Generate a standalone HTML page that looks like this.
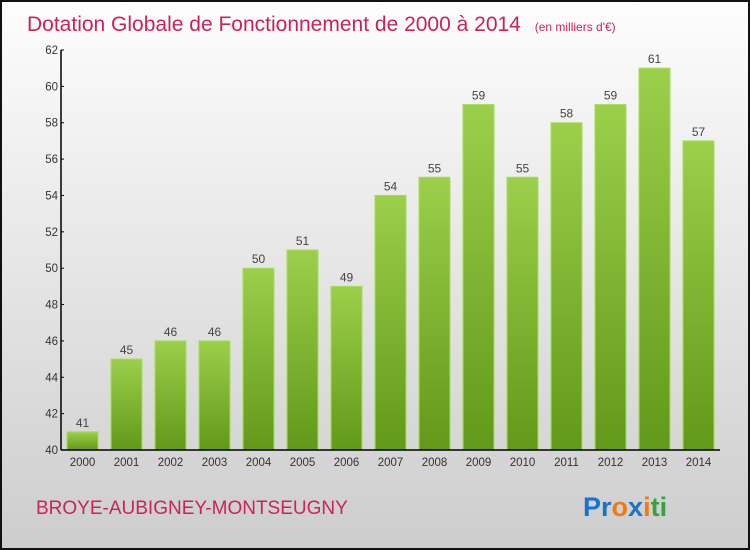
<!DOCTYPE html>
<html><head><meta charset="utf-8"><style>
body{margin:0}
svg{display:block;font-family:"Liberation Sans",sans-serif}
</style></head><body>
<svg width="750" height="550">
<defs>
<linearGradient id="bg" x1="0" y1="0" x2="0" y2="1"><stop offset="0" stop-color="#fdfdfd"/><stop offset="1" stop-color="#cdcdcd"/></linearGradient>
<linearGradient id="bar" x1="0" y1="0" x2="0" y2="1"><stop offset="0" stop-color="#9ccf4a"/><stop offset="1" stop-color="#62991a"/></linearGradient>
</defs>
<rect x="1" y="1" width="748" height="548" fill="url(#bg)" stroke="#111" stroke-width="2"/>
<text x="27" y="31" font-size="21" fill="#c8245a">Dotation Globale de Fonctionnement de 2000 à 2014 <tspan font-size="12" dx="8">(en milliers d'€)</tspan></text>
<g id="plot"></g>
<text x="36" y="514" font-size="19" fill="#c8245a">BROYE-AUBIGNEY-MONTSEUGNY</text>
<text x="583" y="516" font-size="27" font-weight="bold"><tspan fill="#1a73c9">Pr</tspan><tspan fill="#f07b10">o</tspan><tspan fill="#1a73c9">x</tspan><tspan fill="#f07b10">i</tspan><tspan fill="#3aa040">ti</tspan></text>
</svg>
<script>
const years=["2000","2001","2002","2003","2004","2005","2006","2007","2008","2009","2010","2011","2012","2013","2014"];
const values=[41,45,46,46,50,51,49,54,55,59,55,58,59,61,57];
const ticks=[40,42,44,46,48,50,52,54,56,58,60,62];
const NS="http://www.w3.org/2000/svg";
const g=document.getElementById('plot');
const y=v=>450-(v-40)*400/22;
const x=i=>82.5+i*44;
function mk(t,a){const e=document.createElementNS(NS,t);for(const k in a)e.setAttribute(k,a[k]);g.appendChild(e);return e;}
values.forEach((v,i)=>{
 const r=mk('rect',{x:x(i)-15.5,y:y(v),width:31,height:450-y(v),fill:'url(#bar)',stroke:'#a8dc5c','stroke-width':1});
 
 
 const t=mk('text',{x:x(i),y:y(v)-5,'font-size':12,fill:'#444','text-anchor':'middle'});t.textContent=v;
 
 
 const l=mk('text',{x:x(i),y:466,'font-size':11.5,fill:'#333','text-anchor':'middle'});l.textContent=years[i];
 
 
});
ticks.forEach(t=>{
 mk('line',{x1:61,x2:64,y1:y(t),y2:y(t),stroke:'#000'});
 const l=mk('text',{x:58,y:y(t)+4,'font-size':11.5,fill:'#333','text-anchor':'end'});l.textContent=t;
 
 
});
const ax=mk('line',{x1:61,x2:61,y1:50,y2:450,stroke:'#000','stroke-width':1.5});


const bx=mk('line',{x1:61,x2:720,y1:450,y2:450,stroke:'#000','stroke-width':1.5});


</script>
</body></html>
